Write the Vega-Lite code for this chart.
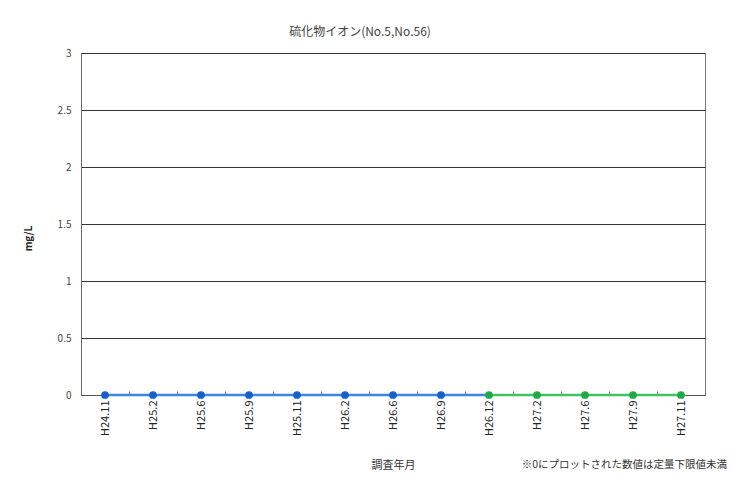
{
  "$schema": "https://vega.github.io/schema/vega-lite/v6.json",
  "autosize": {"type": "none"},
  "width": 624,
  "height": 342,
  "padding": {"left": 81, "top": 53, "right": 27, "bottom": 86},
  "background": "white",
  "title": {
    "text": "硫化物イオン(No.5,No.56)",
    "font": "Noto Sans CJK JP",
    "fontSize": 12,
    "fontWeight": "normal",
    "color": "#444444",
    "offset": 9,
    "dx": -33
  },
  "config": {
    "font": "Noto Sans CJK JP",
    "view": {"stroke": "#777777", "strokeWidth": 1}
  },
  "datasets": {
    "series": [
      {"month": "H24.11", "value": 0, "series": "No.5", "marker": true},
      {"month": "H25.2", "value": 0, "series": "No.5", "marker": true},
      {"month": "H25.6", "value": 0, "series": "No.5", "marker": true},
      {"month": "H25.9", "value": 0, "series": "No.5", "marker": true},
      {"month": "H25.11", "value": 0, "series": "No.5", "marker": true},
      {"month": "H26.2", "value": 0, "series": "No.5", "marker": true},
      {"month": "H26.6", "value": 0, "series": "No.5", "marker": true},
      {"month": "H26.9", "value": 0, "series": "No.5", "marker": true},
      {"month": "H26.12", "value": 0, "series": "No.5", "marker": false},
      {"month": "H26.12", "value": 0, "series": "No.56", "marker": true},
      {"month": "H27.2", "value": 0, "series": "No.56", "marker": true},
      {"month": "H27.6", "value": 0, "series": "No.56", "marker": true},
      {"month": "H27.9", "value": 0, "series": "No.56", "marker": true},
      {"month": "H27.11", "value": 0, "series": "No.56", "marker": true}
    ],
    "note": [
      {"month": "H27.11", "value": 0, "label": "※0にプロットされた数値は定量下限値未満"}
    ]
  },
  "layer": [
    {
      "data": {"name": "series"},
      "mark": {"type": "line", "strokeWidth": 2.5},
      "encoding": {
        "x": {
          "field": "month",
          "type": "ordinal",
          "sort": null,
          "scale": {"paddingInner": 0, "paddingOuter": 0},
          "axis": {
            "title": "調査年月",
            "titleFont": "Noto Sans CJK JP",
            "titleFontSize": 11,
            "titleFontWeight": "normal",
            "titleColor": "#333333",
            "titlePadding": 24,
            "labelAngle": 270,
            "labelAlign": "right",
            "labelBaseline": "middle",
            "labelFontSize": 11,
            "labelColor": "#222222",
            "labelPadding": 9,
            "domainColor": "#555555",
            "tickBand": "extent",
            "tickSize": -4,
            "tickColor": "#777777",
            "grid": false
          }
        },
        "y": {
          "field": "value",
          "type": "quantitative",
          "scale": {"domain": [0, 3], "nice": false},
          "axis": {
            "values": [0, 0.5, 1, 1.5, 2, 2.5, 3],
            "format": "~g",
            "title": "mg/L",
            "titleAngle": 270,
            "titleFontSize": 10,
            "titleFontWeight": "bold",
            "titleColor": "#222222",
            "titleX": -48,
            "titleY": 185,
            "labelFontSize": 10,
            "labelColor": "#444444",
            "labelPadding": 10,
            "ticks": false,
            "domainColor": "#666666",
            "grid": true,
            "gridColor": "#333333",
            "gridOpacity": 1
          }
        },
        "color": {
          "field": "series",
          "type": "nominal",
          "scale": {"domain": ["No.5", "No.56"], "range": ["#3b86de", "#3cc463"]},
          "legend": null
        }
      }
    },
    {
      "data": {"name": "series"},
      "transform": [{"filter": "datum.marker"}],
      "mark": {"type": "point", "filled": true, "size": 60, "opacity": 1},
      "encoding": {
        "x": {"field": "month", "type": "ordinal", "sort": null},
        "y": {"field": "value", "type": "quantitative"},
        "color": {
          "field": "series",
          "type": "nominal",
          "scale": {"domain": ["No.5", "No.56"], "range": ["#1560d0", "#1faa48"]},
          "legend": null
        }
      }
    },
    {
      "data": {"name": "note"},
      "mark": {"type": "text", "align": "right", "baseline": "middle", "dx": 46, "dy": 70, "fontSize": 10.5, "color": "#333333", "font": "Noto Sans CJK JP"},
      "encoding": {
        "x": {"field": "month", "type": "ordinal", "sort": null},
        "y": {"field": "value", "type": "quantitative"},
        "text": {"field": "label"}
      }
    }
  ],
  "resolve": {"scale": {"color": "independent"}}
}
